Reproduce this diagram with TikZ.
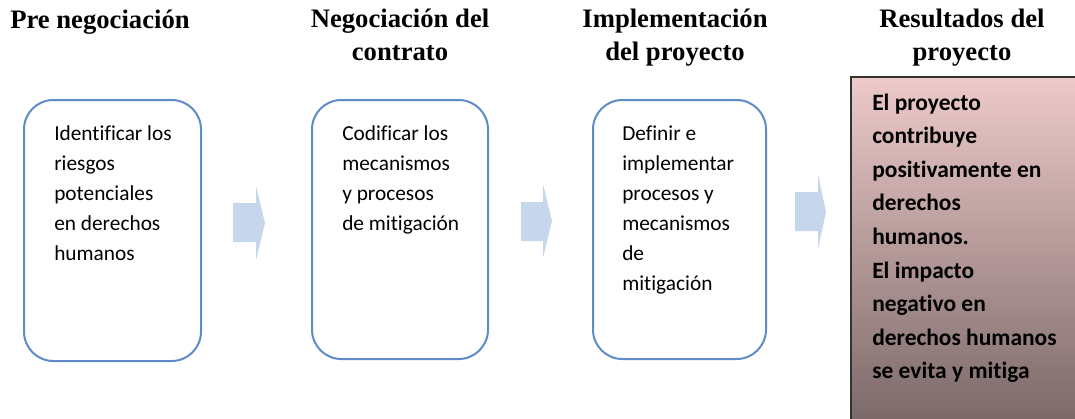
\documentclass[tikz,border=0pt]{standalone}
\usepackage{fontspec}
\setmainfont{Carlito}[Ligatures=NoCommon]
\newfontfamily\titlefont{Liberation Serif}
\definecolor{boxblue}{RGB}{95,140,200}
\definecolor{arrowblue}{RGB}{198,215,235}
\definecolor{restop}{RGB}{238,202,202}
\definecolor{resbot}{RGB}{122,104,104}
\newcommand\colstack[1]{\vtop{\halign{\hfil##\hfil\cr#1\crcr}}}
\newcommand\leftstack[1]{\vtop{\halign{##\hfil\cr#1\crcr}}}
\tikzset{
  stepbox/.style={draw=boxblue, line width=1.5pt, rounded corners=22pt, fill=white},
  blockarrow/.style={fill=arrowblue, draw=none},
  titletext/.style={anchor=base, inner sep=0pt, font=\titlefont\bfseries\fontsize{20}{24.75}\selectfont},
  bodytext/.style={anchor=base west, inner sep=0pt, font=\fontsize{16}{22.5}\selectfont},
  restext/.style={anchor=base west, inner sep=0pt, font=\bfseries\fontsize{17.6}{25.2}\selectfont}
}
\begin{document}
\begin{tikzpicture}[x=0.75pt,y=-0.75pt]
\useasboundingbox (0,0) rectangle (1075,418);
% titles
\node[titletext] (t1) at (100,28) {\colstack{Pre negociación}};
\node[titletext] (t2) at (400,27) {\colstack{Negociación del\cr contrato}};
\node[titletext] (t3) at (675,27) {\colstack{Implementación\cr del proyecto}};
\node[titletext] (t4) at (962,27) {\colstack{Resultados del\cr proyecto}};
% step boxes
\draw[stepbox] (24,100) rectangle (201,361);
\draw[stepbox] (312,100) rectangle (488,359);
\draw[stepbox] (593,100) rectangle (766,359);
% result box
\shade[top color=restop, bottom color=resbot] (851,77) rectangle (1085,425);
\draw[line width=1.5pt, draw=black!80] (1085,77) -- (851,77) -- (851,425);
% step texts
\node[bodytext] (b1) at (54,140) {\leftstack{Identificar los\cr riesgos\cr potenciales\cr en derechos\cr humanos}};
\node[bodytext] (b2) at (342,140) {\leftstack{Codificar los\cr mecanismos\cr y procesos\cr de mitigación}};
\node[bodytext] (b3) at (622,140) {\leftstack{Definir e\cr implementar\cr procesos y\cr mecanismos\cr de\cr mitigación}};
\node[restext] (b4) at (872,110) {\leftstack{El proyecto\cr contribuye\cr positivamente en\cr derechos\cr humanos.\cr El impacto\cr negativo en\cr derechos humanos\cr se evita y mitiga}};
% block arrows
\fill[blockarrow] (233,203) -- (256,203) -- (256,186) -- (265,223) -- (256,260) -- (256,242) -- (233,242) -- cycle;
\fill[blockarrow] (521,202) -- (543,202) -- (543,184) -- (552,221) -- (543,258) -- (543,241) -- (521,241) -- cycle;
\fill[blockarrow] (795,192) -- (818,192) -- (818,174) -- (826,212) -- (818,249) -- (818,231) -- (795,231) -- cycle;
\end{tikzpicture}
\end{document}
